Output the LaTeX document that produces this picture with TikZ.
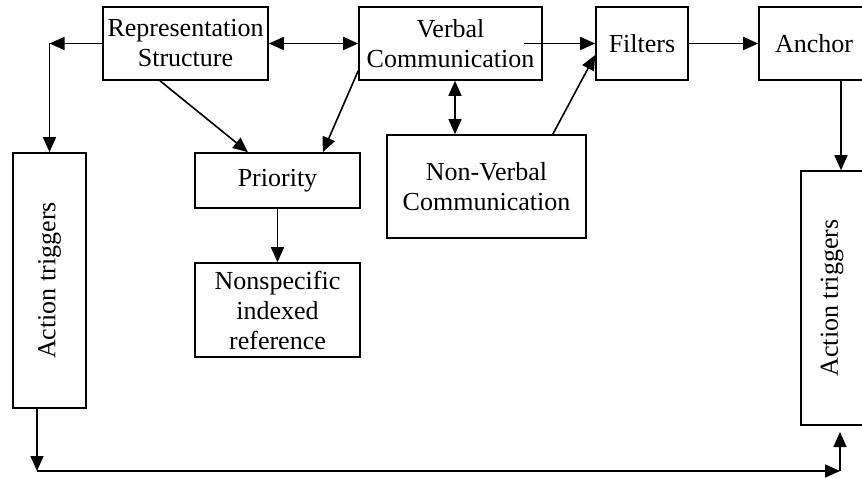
\documentclass[tikz,border=0pt]{standalone}
\usepackage{fontspec}
\setmainfont{Liberation Serif}
\usetikzlibrary{arrows.meta,calc}
\tikzset{
  box/.style={draw, line width=1.6pt, align=center, inner sep=0pt,
    font=\fontsize{26}{30}\selectfont},
  link/.style={line width=1.6pt},
  >={Triangle[length=15pt,width=13pt]}
}
\begin{document}
\begin{tikzpicture}[x=1pt,y=-1pt]
  \useasboundingbox (0,0) rectangle (862,478);
  \clip (0,0) rectangle (862,478);
  % top row
  \node[box, minimum width=165, minimum height=73] (rep) at (185.5,43.5) {Representation\\Structure};
  \node[box, minimum width=183, minimum height=73] (verbal) at (450.5,43.5) {Verbal\\Communication};
  \node[box, minimum width=92, minimum height=73] (filters) at (642,43.5) {Filters};
  \node[box, minimum width=110, minimum height=73] (anchor) at (814,43.5) {Anchor};
  % middle
  \node[box, minimum width=165, minimum height=55] (priority) at (277.5,180.5) {Priority};
  \node[box, minimum width=165, minimum height=94] (nonspec) at (277.5,310) {Nonspecific\\indexed\\reference};
  \node[box, minimum width=199, minimum height=103] (nonverbal) at (486.5,186.5) {Non-Verbal\\Communication};
  % side boxes
  \node[box, rotate=90, minimum width=255, minimum height=73] (trigL) at (49.5,280.5) {Action triggers};
  \node[box, rotate=90, minimum width=254, minimum height=62] (trigR) at (832,298) {Action triggers};
  \coordinate (rl) at (49.5,43.5);
  \coordinate (ar) at (841,0);
  \coordinate (bl) at (37,471);
  \coordinate (br) at (840,471);
  \coordinate (brtip) at (840,432);

  \draw[link,->] (rep.west) -- (rl);
  \draw[link,->] (rl) -- (trigL.east);
  \draw[link,<->] (rep.east) -- (verbal.west);
  \draw[link,->] ($(rep.south)+(-25.5,0)$) -- ($(priority.north)+(-29.5,0)$);
  \draw[link,->] ($(verbal.south west)+(0,-10)$) -- ($(priority.north east)+(-38,0)$);
  \draw[link,<->] ($(verbal.south)+(4.5,0)$) -- ($(verbal.south |- nonverbal.north)+(4.5,0)$);
  \draw[link,->] ($(verbal.east)+(-19,0)$) -- (filters.west);
  \draw[link,->] ($(nonverbal.north east)+(-34,0)$) -- ($(filters.west)+(0,11.5)$);
  \draw[link,->] (filters.east) -- (anchor.west);
  \draw[link,->] (priority) -- (nonspec);
  \draw[link,->] (ar |- anchor.south) -- (ar |- trigR.east);
  % bottom loop
  \draw[link,->] (bl |- trigL.west) -- (bl);
  \draw[link,->] (bl) -- (br);
  \draw[link,->] (br) -- (brtip);
\end{tikzpicture}
\end{document}
